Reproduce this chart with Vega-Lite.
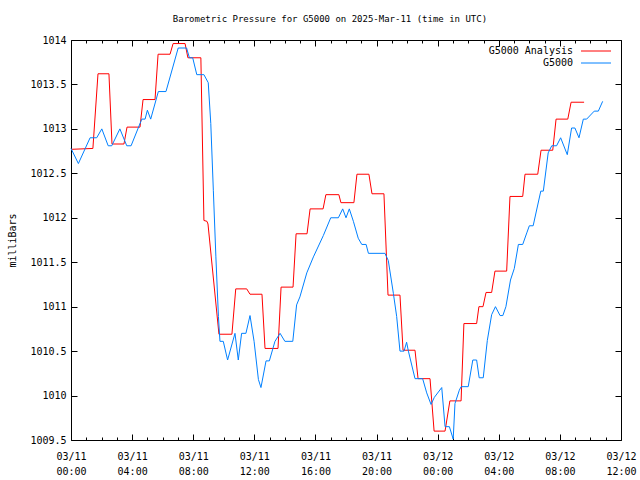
{
  "$schema": "https://vega.github.io/schema/vega-lite/v6.json",
  "width": 550,
  "height": 400,
  "autosize": "none",
  "padding": {"left": 71, "top": 40, "right": 19, "bottom": 40},
  "background": "white",
  "title": {"text": "Barometric Pressure for G5000 on 2025-Mar-11 (time in UTC)", "font": "DejaVu Sans Mono", "fontSize": 9, "fontWeight": "normal", "color": "black", "anchor": "middle", "offset": 11, "dx": -16},
  "data": {
    "values": [
      {"s": "G5000 Analysis", "t": "2025-03-11T00:00:00Z", "p": 1012.77},
      {"s": "G5000 Analysis", "t": "2025-03-11T01:26:00Z", "p": 1012.78},
      {"s": "G5000 Analysis", "t": "2025-03-11T01:46:00Z", "p": 1013.62},
      {"s": "G5000 Analysis", "t": "2025-03-11T02:29:00Z", "p": 1013.62},
      {"s": "G5000 Analysis", "t": "2025-03-11T02:41:00Z", "p": 1012.83},
      {"s": "G5000 Analysis", "t": "2025-03-11T03:28:00Z", "p": 1012.83},
      {"s": "G5000 Analysis", "t": "2025-03-11T03:40:00Z", "p": 1013.02},
      {"s": "G5000 Analysis", "t": "2025-03-11T04:31:00Z", "p": 1013.02},
      {"s": "G5000 Analysis", "t": "2025-03-11T04:43:00Z", "p": 1013.33},
      {"s": "G5000 Analysis", "t": "2025-03-11T05:30:00Z", "p": 1013.33},
      {"s": "G5000 Analysis", "t": "2025-03-11T05:42:00Z", "p": 1013.84},
      {"s": "G5000 Analysis", "t": "2025-03-11T06:29:00Z", "p": 1013.84},
      {"s": "G5000 Analysis", "t": "2025-03-11T06:41:00Z", "p": 1013.96},
      {"s": "G5000 Analysis", "t": "2025-03-11T07:28:00Z", "p": 1013.96},
      {"s": "G5000 Analysis", "t": "2025-03-11T07:39:00Z", "p": 1013.80},
      {"s": "G5000 Analysis", "t": "2025-03-11T08:30:00Z", "p": 1013.80},
      {"s": "G5000 Analysis", "t": "2025-03-11T08:42:00Z", "p": 1011.97},
      {"s": "G5000 Analysis", "t": "2025-03-11T08:54:00Z", "p": 1011.96},
      {"s": "G5000 Analysis", "t": "2025-03-11T08:58:00Z", "p": 1011.93},
      {"s": "G5000 Analysis", "t": "2025-03-11T09:41:00Z", "p": 1010.69},
      {"s": "G5000 Analysis", "t": "2025-03-11T10:32:00Z", "p": 1010.69},
      {"s": "G5000 Analysis", "t": "2025-03-11T10:47:00Z", "p": 1011.20},
      {"s": "G5000 Analysis", "t": "2025-03-11T11:30:00Z", "p": 1011.20},
      {"s": "G5000 Analysis", "t": "2025-03-11T11:43:00Z", "p": 1011.14},
      {"s": "G5000 Analysis", "t": "2025-03-11T12:30:00Z", "p": 1011.14},
      {"s": "G5000 Analysis", "t": "2025-03-11T12:42:00Z", "p": 1010.53},
      {"s": "G5000 Analysis", "t": "2025-03-11T13:33:00Z", "p": 1010.53},
      {"s": "G5000 Analysis", "t": "2025-03-11T13:45:00Z", "p": 1011.22},
      {"s": "G5000 Analysis", "t": "2025-03-11T14:32:00Z", "p": 1011.22},
      {"s": "G5000 Analysis", "t": "2025-03-11T14:44:00Z", "p": 1011.82},
      {"s": "G5000 Analysis", "t": "2025-03-11T15:27:00Z", "p": 1011.82},
      {"s": "G5000 Analysis", "t": "2025-03-11T15:39:00Z", "p": 1012.10},
      {"s": "G5000 Analysis", "t": "2025-03-11T16:30:00Z", "p": 1012.10},
      {"s": "G5000 Analysis", "t": "2025-03-11T16:41:00Z", "p": 1012.26},
      {"s": "G5000 Analysis", "t": "2025-03-11T17:32:00Z", "p": 1012.26},
      {"s": "G5000 Analysis", "t": "2025-03-11T17:40:00Z", "p": 1012.17},
      {"s": "G5000 Analysis", "t": "2025-03-11T18:31:00Z", "p": 1012.17},
      {"s": "G5000 Analysis", "t": "2025-03-11T18:43:00Z", "p": 1012.49},
      {"s": "G5000 Analysis", "t": "2025-03-11T19:30:00Z", "p": 1012.49},
      {"s": "G5000 Analysis", "t": "2025-03-11T19:42:00Z", "p": 1012.27},
      {"s": "G5000 Analysis", "t": "2025-03-11T20:29:00Z", "p": 1012.27},
      {"s": "G5000 Analysis", "t": "2025-03-11T20:45:00Z", "p": 1011.13},
      {"s": "G5000 Analysis", "t": "2025-03-11T21:32:00Z", "p": 1011.13},
      {"s": "G5000 Analysis", "t": "2025-03-11T21:44:00Z", "p": 1010.51},
      {"s": "G5000 Analysis", "t": "2025-03-11T22:31:00Z", "p": 1010.51},
      {"s": "G5000 Analysis", "t": "2025-03-11T22:43:00Z", "p": 1010.19},
      {"s": "G5000 Analysis", "t": "2025-03-11T23:30:00Z", "p": 1010.19},
      {"s": "G5000 Analysis", "t": "2025-03-11T23:46:00Z", "p": 1009.60},
      {"s": "G5000 Analysis", "t": "2025-03-12T00:29:00Z", "p": 1009.60},
      {"s": "G5000 Analysis", "t": "2025-03-12T00:48:00Z", "p": 1009.94},
      {"s": "G5000 Analysis", "t": "2025-03-12T01:32:00Z", "p": 1009.94},
      {"s": "G5000 Analysis", "t": "2025-03-12T01:43:00Z", "p": 1010.81},
      {"s": "G5000 Analysis", "t": "2025-03-12T02:33:00Z", "p": 1010.81},
      {"s": "G5000 Analysis", "t": "2025-03-12T02:42:00Z", "p": 1011.00},
      {"s": "G5000 Analysis", "t": "2025-03-12T02:58:00Z", "p": 1011.00},
      {"s": "G5000 Analysis", "t": "2025-03-12T03:10:00Z", "p": 1011.16},
      {"s": "G5000 Analysis", "t": "2025-03-12T03:32:00Z", "p": 1011.16},
      {"s": "G5000 Analysis", "t": "2025-03-12T03:45:00Z", "p": 1011.40},
      {"s": "G5000 Analysis", "t": "2025-03-12T04:31:00Z", "p": 1011.40},
      {"s": "G5000 Analysis", "t": "2025-03-12T04:44:00Z", "p": 1012.24},
      {"s": "G5000 Analysis", "t": "2025-03-12T05:34:00Z", "p": 1012.24},
      {"s": "G5000 Analysis", "t": "2025-03-12T05:43:00Z", "p": 1012.49},
      {"s": "G5000 Analysis", "t": "2025-03-12T06:33:00Z", "p": 1012.49},
      {"s": "G5000 Analysis", "t": "2025-03-12T06:46:00Z", "p": 1012.76},
      {"s": "G5000 Analysis", "t": "2025-03-12T07:32:00Z", "p": 1012.76},
      {"s": "G5000 Analysis", "t": "2025-03-12T07:45:00Z", "p": 1013.11},
      {"s": "G5000 Analysis", "t": "2025-03-12T08:31:00Z", "p": 1013.11},
      {"s": "G5000 Analysis", "t": "2025-03-12T08:44:00Z", "p": 1013.30},
      {"s": "G5000 Analysis", "t": "2025-03-12T09:35:00Z", "p": 1013.30},
      {"s": "G5000", "t": "2025-03-11T00:00:00Z", "p": 1012.78},
      {"s": "G5000", "t": "2025-03-11T00:29:00Z", "p": 1012.61},
      {"s": "G5000", "t": "2025-03-11T01:15:00Z", "p": 1012.90},
      {"s": "G5000", "t": "2025-03-11T01:41:00Z", "p": 1012.90},
      {"s": "G5000", "t": "2025-03-11T02:01:00Z", "p": 1013.00},
      {"s": "G5000", "t": "2025-03-11T02:26:00Z", "p": 1012.81},
      {"s": "G5000", "t": "2025-03-11T02:40:00Z", "p": 1012.81},
      {"s": "G5000", "t": "2025-03-11T03:12:00Z", "p": 1013.00},
      {"s": "G5000", "t": "2025-03-11T03:39:00Z", "p": 1012.81},
      {"s": "G5000", "t": "2025-03-11T03:56:00Z", "p": 1012.81},
      {"s": "G5000", "t": "2025-03-11T04:38:00Z", "p": 1013.11},
      {"s": "G5000", "t": "2025-03-11T04:51:00Z", "p": 1013.11},
      {"s": "G5000", "t": "2025-03-11T05:00:00Z", "p": 1013.21},
      {"s": "G5000", "t": "2025-03-11T05:13:00Z", "p": 1013.11},
      {"s": "G5000", "t": "2025-03-11T05:43:00Z", "p": 1013.42},
      {"s": "G5000", "t": "2025-03-11T06:13:00Z", "p": 1013.42},
      {"s": "G5000", "t": "2025-03-11T07:01:00Z", "p": 1013.91},
      {"s": "G5000", "t": "2025-03-11T07:34:00Z", "p": 1013.91},
      {"s": "G5000", "t": "2025-03-11T07:45:00Z", "p": 1013.80},
      {"s": "G5000", "t": "2025-03-11T07:58:00Z", "p": 1013.80},
      {"s": "G5000", "t": "2025-03-11T08:14:00Z", "p": 1013.61},
      {"s": "G5000", "t": "2025-03-11T08:42:00Z", "p": 1013.61},
      {"s": "G5000", "t": "2025-03-11T08:59:00Z", "p": 1013.52},
      {"s": "G5000", "t": "2025-03-11T09:09:00Z", "p": 1013.06},
      {"s": "G5000", "t": "2025-03-11T09:19:00Z", "p": 1012.31},
      {"s": "G5000", "t": "2025-03-11T09:29:00Z", "p": 1011.56},
      {"s": "G5000", "t": "2025-03-11T09:39:00Z", "p": 1010.89},
      {"s": "G5000", "t": "2025-03-11T09:45:00Z", "p": 1010.61},
      {"s": "G5000", "t": "2025-03-11T09:58:00Z", "p": 1010.61},
      {"s": "G5000", "t": "2025-03-11T10:15:00Z", "p": 1010.40},
      {"s": "G5000", "t": "2025-03-11T10:44:00Z", "p": 1010.70},
      {"s": "G5000", "t": "2025-03-11T10:57:00Z", "p": 1010.40},
      {"s": "G5000", "t": "2025-03-11T11:10:00Z", "p": 1010.70},
      {"s": "G5000", "t": "2025-03-11T11:27:00Z", "p": 1010.70},
      {"s": "G5000", "t": "2025-03-11T11:43:00Z", "p": 1010.90},
      {"s": "G5000", "t": "2025-03-11T11:59:00Z", "p": 1010.61},
      {"s": "G5000", "t": "2025-03-11T12:16:00Z", "p": 1010.18},
      {"s": "G5000", "t": "2025-03-11T12:26:00Z", "p": 1010.09},
      {"s": "G5000", "t": "2025-03-11T12:46:00Z", "p": 1010.39},
      {"s": "G5000", "t": "2025-03-11T12:59:00Z", "p": 1010.39},
      {"s": "G5000", "t": "2025-03-11T13:21:00Z", "p": 1010.61},
      {"s": "G5000", "t": "2025-03-11T13:41:00Z", "p": 1010.70},
      {"s": "G5000", "t": "2025-03-11T14:00:00Z", "p": 1010.61},
      {"s": "G5000", "t": "2025-03-11T14:31:00Z", "p": 1010.61},
      {"s": "G5000", "t": "2025-03-11T14:46:00Z", "p": 1011.02},
      {"s": "G5000", "t": "2025-03-11T14:59:00Z", "p": 1011.11},
      {"s": "G5000", "t": "2025-03-11T15:26:00Z", "p": 1011.38},
      {"s": "G5000", "t": "2025-03-11T15:52:00Z", "p": 1011.56},
      {"s": "G5000", "t": "2025-03-11T16:31:00Z", "p": 1011.80},
      {"s": "G5000", "t": "2025-03-11T17:00:00Z", "p": 1012.00},
      {"s": "G5000", "t": "2025-03-11T17:30:00Z", "p": 1012.00},
      {"s": "G5000", "t": "2025-03-11T17:47:00Z", "p": 1012.10},
      {"s": "G5000", "t": "2025-03-11T18:00:00Z", "p": 1012.00},
      {"s": "G5000", "t": "2025-03-11T18:13:00Z", "p": 1012.10},
      {"s": "G5000", "t": "2025-03-11T18:29:00Z", "p": 1011.96},
      {"s": "G5000", "t": "2025-03-11T18:48:00Z", "p": 1011.77},
      {"s": "G5000", "t": "2025-03-11T19:02:00Z", "p": 1011.70},
      {"s": "G5000", "t": "2025-03-11T19:19:00Z", "p": 1011.70},
      {"s": "G5000", "t": "2025-03-11T19:28:00Z", "p": 1011.60},
      {"s": "G5000", "t": "2025-03-11T20:33:00Z", "p": 1011.60},
      {"s": "G5000", "t": "2025-03-11T20:46:00Z", "p": 1011.52},
      {"s": "G5000", "t": "2025-03-11T21:06:00Z", "p": 1011.15},
      {"s": "G5000", "t": "2025-03-11T21:19:00Z", "p": 1010.89},
      {"s": "G5000", "t": "2025-03-11T21:32:00Z", "p": 1010.50},
      {"s": "G5000", "t": "2025-03-11T21:48:00Z", "p": 1010.50},
      {"s": "G5000", "t": "2025-03-11T21:58:00Z", "p": 1010.60},
      {"s": "G5000", "t": "2025-03-11T22:05:00Z", "p": 1010.50},
      {"s": "G5000", "t": "2025-03-11T22:31:00Z", "p": 1010.19},
      {"s": "G5000", "t": "2025-03-11T23:01:00Z", "p": 1010.19},
      {"s": "G5000", "t": "2025-03-11T23:17:00Z", "p": 1010.03},
      {"s": "G5000", "t": "2025-03-11T23:34:00Z", "p": 1009.90},
      {"s": "G5000", "t": "2025-03-11T23:47:00Z", "p": 1009.98},
      {"s": "G5000", "t": "2025-03-12T00:16:00Z", "p": 1010.09},
      {"s": "G5000", "t": "2025-03-12T00:29:00Z", "p": 1009.65},
      {"s": "G5000", "t": "2025-03-12T00:46:00Z", "p": 1009.65},
      {"s": "G5000", "t": "2025-03-12T01:01:00Z", "p": 1009.51},
      {"s": "G5000", "t": "2025-03-12T01:08:00Z", "p": 1009.91},
      {"s": "G5000", "t": "2025-03-12T01:25:00Z", "p": 1010.06},
      {"s": "G5000", "t": "2025-03-12T01:32:00Z", "p": 1010.10},
      {"s": "G5000", "t": "2025-03-12T02:00:00Z", "p": 1010.10},
      {"s": "G5000", "t": "2025-03-12T02:18:00Z", "p": 1010.40},
      {"s": "G5000", "t": "2025-03-12T02:33:00Z", "p": 1010.40},
      {"s": "G5000", "t": "2025-03-12T02:43:00Z", "p": 1010.20},
      {"s": "G5000", "t": "2025-03-12T02:59:00Z", "p": 1010.20},
      {"s": "G5000", "t": "2025-03-12T03:15:00Z", "p": 1010.62},
      {"s": "G5000", "t": "2025-03-12T03:32:00Z", "p": 1010.91},
      {"s": "G5000", "t": "2025-03-12T03:47:00Z", "p": 1011.00},
      {"s": "G5000", "t": "2025-03-12T04:05:00Z", "p": 1010.90},
      {"s": "G5000", "t": "2025-03-12T04:16:00Z", "p": 1010.90},
      {"s": "G5000", "t": "2025-03-12T04:28:00Z", "p": 1011.00},
      {"s": "G5000", "t": "2025-03-12T04:46:00Z", "p": 1011.30},
      {"s": "G5000", "t": "2025-03-12T05:01:00Z", "p": 1011.43},
      {"s": "G5000", "t": "2025-03-12T05:17:00Z", "p": 1011.70},
      {"s": "G5000", "t": "2025-03-12T05:34:00Z", "p": 1011.70},
      {"s": "G5000", "t": "2025-03-12T05:50:00Z", "p": 1011.83},
      {"s": "G5000", "t": "2025-03-12T06:00:00Z", "p": 1011.91},
      {"s": "G5000", "t": "2025-03-12T06:15:00Z", "p": 1011.91},
      {"s": "G5000", "t": "2025-03-12T06:45:00Z", "p": 1012.30},
      {"s": "G5000", "t": "2025-03-12T06:55:00Z", "p": 1012.30},
      {"s": "G5000", "t": "2025-03-12T07:14:00Z", "p": 1012.73},
      {"s": "G5000", "t": "2025-03-12T07:28:00Z", "p": 1012.81},
      {"s": "G5000", "t": "2025-03-12T07:47:00Z", "p": 1012.81},
      {"s": "G5000", "t": "2025-03-12T08:03:00Z", "p": 1012.90},
      {"s": "G5000", "t": "2025-03-12T08:29:00Z", "p": 1012.71},
      {"s": "G5000", "t": "2025-03-12T08:46:00Z", "p": 1013.01},
      {"s": "G5000", "t": "2025-03-12T08:59:00Z", "p": 1013.01},
      {"s": "G5000", "t": "2025-03-12T09:15:00Z", "p": 1012.90},
      {"s": "G5000", "t": "2025-03-12T09:32:00Z", "p": 1013.11},
      {"s": "G5000", "t": "2025-03-12T09:45:00Z", "p": 1013.11},
      {"s": "G5000", "t": "2025-03-12T10:15:00Z", "p": 1013.20},
      {"s": "G5000", "t": "2025-03-12T10:31:00Z", "p": 1013.20},
      {"s": "G5000", "t": "2025-03-12T10:48:00Z", "p": 1013.31}
    ]
  },
  "layer": [
    {
      "mark": {"type": "line", "strokeWidth": 1, "interpolate": "linear"},
      "encoding": {
        "x": {"field": "t", "type": "temporal",
          "scale": {"type": "utc", "domain": [{"year": 2025, "month": 3, "date": 11, "hours": 0, "utc": true}, {"year": 2025, "month": 3, "date": 12, "hours": 12, "utc": true}]},
          "axis": {"orient": "bottom", "title": null, "tickCount": 36,
            "tickSize": {"condition": {"test": "utchours(datum.value) % 4 == 0", "value": -6}, "value": -3},
            "labelPadding": 17, "labelLineHeight": 15,
            "labelExpr": "utchours(datum.value) % 4 == 0 ? [utcFormat(datum.value, '%m/%d'), utcFormat(datum.value, '%H:%M')] : ''", "labelFlush": false, "labelOverlap": false}},
        "y": {"field": "p", "type": "quantitative",
          "scale": {"domain": [1009.5, 1014], "nice": false, "zero": false},
          "axis": {"orient": "left", "title": "milliBars", "values": [1009.5, 1010, 1010.5, 1011, 1011.5, 1012, 1012.5, 1013, 1013.5, 1014], "format": "~f", "tickSize": -6, "labelPadding": 11, "titlePadding": 12, "labelFlush": false}},
        "color": {"field": "s", "type": "nominal",
          "scale": {"domain": ["G5000 Analysis", "G5000"], "range": ["#ff0000", "#0080ff"]},
          "legend": {"title": null, "orient": "none", "legendX": 505, "legendY": 6, "padding": 0, "symbolType": "M-5,0L5,0", "symbolSize": 36, "symbolStrokeWidth": 1, "labelAlign": "right", "labelOffset": -28, "symbolOffset": 15, "rowPadding": 2, "labelFont": "DejaVu Sans Mono", "labelFontSize": 10, "labelColor": "black"}}
      }
    },
    {
      "mark": {"type": "line", "strokeOpacity": 0},
      "encoding": {
        "x": {"field": "t", "type": "temporal",
          "axis": {"orient": "top", "title": null, "tickCount": 36, "labels": false,
            "tickSize": {"condition": {"test": "utchours(datum.value) % 4 == 0", "value": -6}, "value": -3}}},
        "y": {"field": "p", "type": "quantitative",
          "axis": {"orient": "right", "title": null, "values": [1009.5, 1010, 1010.5, 1011, 1011.5, 1012, 1012.5, 1013, 1013.5, 1014], "tickSize": -6, "labels": false}},
        "detail": {"field": "s"}
      }
    }
  ],
  "resolve": {"axis": {"x": "independent", "y": "independent"}},
  "config": {
    "view": {"stroke": "black", "strokeWidth": 1},
    "axis": {"grid": false, "domain": false, "tickColor": "black", "tickWidth": 1, "labelColor": "black", "labelFont": "DejaVu Sans Mono", "labelFontSize": 10, "titleFont": "DejaVu Sans Mono", "titleFontSize": 10, "titleFontWeight": "normal", "titleColor": "black"}
  }
}
